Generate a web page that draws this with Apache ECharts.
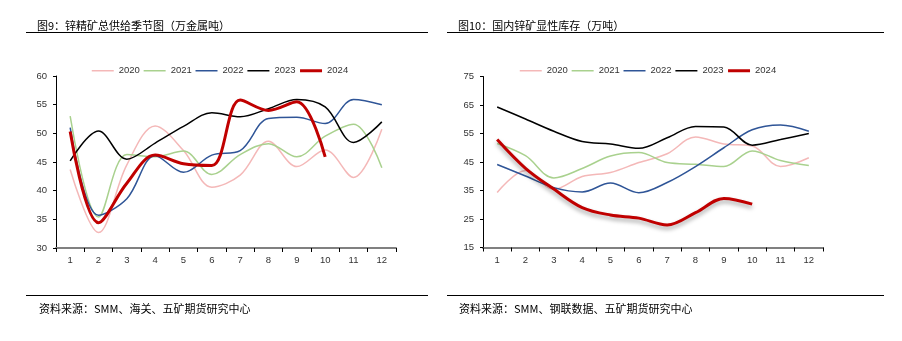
<!DOCTYPE html>
<html><head><meta charset="utf-8">
<script src="https://cdn.jsdelivr.net/npm/echarts@6/dist/echarts.min.js"></script>
<style>html,body{margin:0;padding:0;background:#fff;}#c{width:902px;height:341px;}</style>
</head><body><div id="c"></div>
<script>
const months = ['1','2','3','4','5','6','7','8','9','10','11','12'];
const years = ['2020','2021','2022','2023','2024'];
// Left: 锌精矿总供给季节图（万金属吨）
const supply2020 = [43.7, 32.7, 44.5, 51.3, 47.0, 40.6, 42.7, 48.6, 44.2, 47.1, 42.3, 50.7];
const supply2021 = [53.0, 35.4, 46.3, 45.9, 46.9, 42.8, 46.3, 48.2, 45.9, 49.5, 51.6, 44.0];
const supply2022 = [51.0, 35.7, 38.6, 46.1, 43.2, 46.2, 47.0, 52.6, 52.8, 51.7, 55.9, 55.0];
const supply2023 = [45.2, 50.4, 45.5, 48.3, 51.2, 53.6, 52.9, 54.3, 55.9, 54.6, 48.4, 52.0];
const supply2024 = [50.3, 34.4, 41.3, 46.2, 44.7, 44.4, 55.8, 54.0, 55.5, 45.9];
// Right: 国内锌矿显性库存（万吨）
const stock2020 = [34.3, 42.0, 35.4, 39.9, 41.3, 44.8, 47.9, 53.8, 51.3, 50.6, 43.4, 46.5];
const stock2021 = [51.5, 47.2, 39.4, 42.7, 47.1, 48.3, 44.8, 44.2, 43.4, 48.9, 45.5, 43.8];
const stock2022 = [44.1, 40.1, 36.0, 34.5, 37.6, 34.2, 37.8, 43.4, 50.0, 56.3, 58.0, 55.8];
const stock2023 = [64.3, 60.1, 55.8, 52.2, 51.3, 49.8, 53.5, 57.5, 57.3, 50.9, 52.9, 55.0];
const stock2024 = [52.9, 42.8, 35.5, 29.0, 26.4, 25.3, 22.9, 27.2, 32.2, 30.2];

const leftTicks = [30, 35, 40, 45, 50, 55, 60];
const rightTicks = [15, 25, 35, 45, 55, 65, 75];

const colors = ['#F4B8B8', '#A9D18E', '#2F5597', '#000000', '#C00000'];
const widths = [1.5, 1.5, 1.5, 1.5, 3];
const font = 'Arial, "Liberation Sans", "Noto Sans CJK SC", sans-serif';
const cjk = '"Noto Sans CJK SC", sans-serif';

function mkSeries(data, gi, idx, shadow) {
  const s = {
    name: years[idx], type: 'line', xAxisIndex: gi, yAxisIndex: gi,
    data: data, smooth: 0.35, symbol: 'none', z: 2 + idx,
    lineStyle: { color: colors[idx], width: widths[idx] },
    itemStyle: { color: colors[idx] }
  };
  if (shadow) {
    s.lineStyle.shadowColor = 'rgba(0,0,0,0.35)';
    s.lineStyle.shadowBlur = 4;
    s.lineStyle.shadowOffsetY = 3;
  }
  return s;
}

function xAx(gi) {
  return {
    type: 'category', gridIndex: gi, data: months, boundaryGap: true,
    axisLine: { lineStyle: { color: '#808080', width: 2 } },
    axisTick: { show: true, alignWithLabel: false, length: 4, lineStyle: { color: '#000', width: 1 } },
    axisLabel: { color: '#333', fontSize: 9.5, fontFamily: font, margin: 8 },
    splitLine: { show: false }
  };
}
function yAx(gi, ticks) {
  return {
    type: 'value', gridIndex: gi, min: ticks[0], max: ticks[ticks.length - 1],
    interval: ticks[1] - ticks[0],
    axisLine: { show: true, lineStyle: { color: '#000', width: 1 } },
    axisTick: { show: true, length: 3, inside: false, lineStyle: { color: '#000' } },
    axisLabel: { color: '#333', fontSize: 9.5, fontFamily: font, margin: 9 },
    splitLine: { show: false }
  };
}

function legendData() {
  return years.map((y, i) => ({ name: y, itemStyle: { opacity: 0 }, lineStyle: { color: colors[i], width: widths[i], opacity: 1 } }));
}

const chart = echarts.init(document.getElementById('c'), null, { renderer: 'canvas' });
chart.setOption({
  animation: false,
  backgroundColor: '#fff',
  title: [
    { text: '图9：锌精矿总供给季节图（万金属吨）', left: 32, top: 15, textStyle: { fontSize: 11, fontWeight: 'normal', color: '#000', fontFamily: cjk } },
    { text: '图10：国内锌矿显性库存（万吨）', left: 453, top: 15, textStyle: { fontSize: 11, fontWeight: 'normal', color: '#000', fontFamily: cjk } },
    { text: '资料来源：SMM、海关、五矿期货研究中心', left: 34, top: 298, textStyle: { fontSize: 11, fontWeight: 'normal', color: '#000', fontFamily: cjk } },
    { text: '资料来源：SMM、钢联数据、五矿期货研究中心', left: 454, top: 298, textStyle: { fontSize: 11, fontWeight: 'normal', color: '#000', fontFamily: cjk } }
  ],
  graphic: [
    { type: 'line', shape: { x1: 26, y1: 32.5, x2: 428, y2: 32.5 }, style: { stroke: '#000', lineWidth: 1 } },
    { type: 'line', shape: { x1: 447, y1: 32.5, x2: 884, y2: 32.5 }, style: { stroke: '#000', lineWidth: 1 } },
    { type: 'line', shape: { x1: 26, y1: 295.5, x2: 428, y2: 295.5 }, style: { stroke: '#000', lineWidth: 1 } },
    { type: 'line', shape: { x1: 447, y1: 295.5, x2: 884, y2: 295.5 }, style: { stroke: '#000', lineWidth: 1 } }
  ],
  legend: [
    { data: legendData(), left: 86, top: 61, itemWidth: 22, itemHeight: 8, itemGap: 3,
      textStyle: { fontSize: 9.5, color: '#333', fontFamily: font }, selectedMode: false },
    { data: legendData(), left: 514, top: 61, itemWidth: 22, itemHeight: 8, itemGap: 3,
      textStyle: { fontSize: 9.5, color: '#333', fontFamily: font }, selectedMode: false }
  ],
  grid: [
    { left: 56, top: 76, width: 340, height: 172 },
    { left: 483, top: 76.5, width: 340, height: 171 }
  ],
  xAxis: [xAx(0), xAx(1)],
  yAxis: [yAx(0, leftTicks), yAx(1, rightTicks)],
  series: [
    mkSeries(supply2020, 0, 0), mkSeries(supply2021, 0, 1), mkSeries(supply2022, 0, 2),
    mkSeries(supply2023, 0, 3), mkSeries(supply2024, 0, 4),
    mkSeries(stock2020, 1, 0), mkSeries(stock2021, 1, 1), mkSeries(stock2022, 1, 2),
    mkSeries(stock2023, 1, 3), mkSeries(stock2024, 1, 4, true)
  ]
});
</script></body></html>
